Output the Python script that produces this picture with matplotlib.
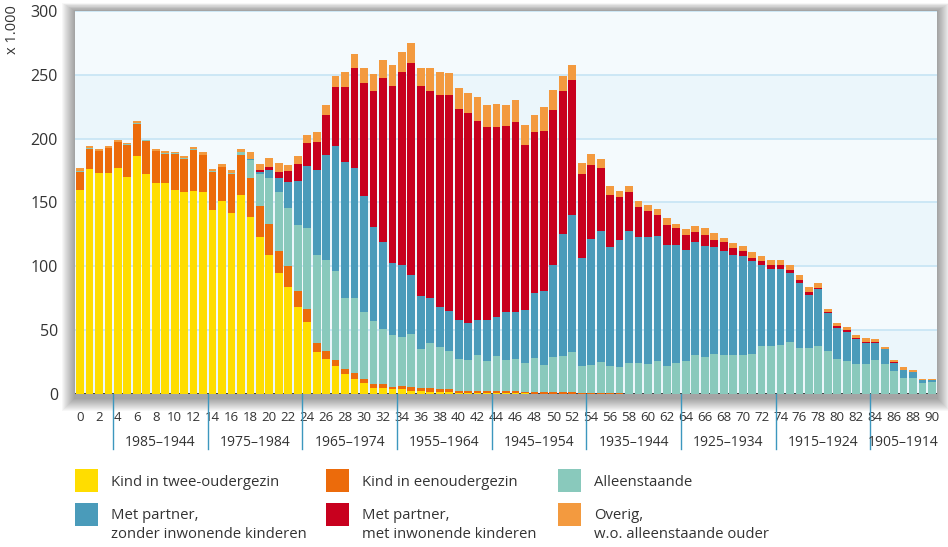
import matplotlib
matplotlib.use("Agg")
import matplotlib.pyplot as plt
from matplotlib.patches import Rectangle
import matplotlib.transforms as mtransforms
import numpy as np

plt.rcParams['font.family'] = ['Open Sans', 'DejaVu Sans']

ages = list(range(91))

kind_twee = [160, 176, 173, 173, 177, 170, 186, 172, 165, 165, 160, 158, 159, 158, 144, 151, 142, 156, 138.5, 123,
             109, 95, 84, 68, 56.5, 33, 27.6, 22, 16, 12, 8.9, 5, 5, 4.2, 4.2, 2.6, 2.6, 1.8, 1.8, 1.8,
             1, 1, 1, 1, 1, 1, 1, 0.8, 0.5, 0.3, 0.3, 0.3, 0.3, 0.2, 0.2, 0.2] + [0] * 35
kind_een = [14, 16, 17, 19.5, 20, 25, 25.5, 26, 25, 23, 28, 26, 32, 29, 30, 26.6, 30, 31, 30.5, 24,
            24, 17, 16.4, 12.5, 10.2, 7, 6.3, 4.7, 4, 4.7, 3.1, 3.2, 3.2, 1.5, 2.3, 3.1, 2.3, 3.1, 2.4, 2.4,
            1.6, 1.6, 1.6, 1.6, 1.6, 1.6, 1.6, 1, 1.3, 1.5, 1.5, 1.5, 1.5, 0.8, 0.8, 0.8, 0.8, 0.8, 0.5, 0.5,
            0.5, 0.5] + [0.2] * 29
alleen = [0.5] * 16 + [1, 2.3, 14, 25,
          36, 46, 45.3, 51.6, 63.3, 68.8, 71, 69.6, 55.5, 58.6, 52.3, 49.2, 43, 40.6, 38.3, 41.4, 30.5, 35.2, 32.8, 29.7,
          25, 24.4, 28.1, 23.4, 27.3, 24.2, 25, 22.7, 26.6, 21.1, 27.4, 28.1, 31.2, 21.1, 21.9, 24.3, 21.3, 20.6, 24, 24,
          23.2, 25.5, 21.8, 24.2, 25.7, 30.4, 28.9, 31.2, 30.4, 30.4, 30.4, 31.2, 37.5, 37.5, 38.2, 40.6, 35.9, 35.9, 37.5, 33.6,
          27.3, 25.7, 23.4, 23.4, 26.5, 23.4, 17.9, 12.5, 12.5, 8.6, 9.3]
partner_zonder = [0] * 18 + [0.8, 1.7,
                  6.3, 11, 20.3, 34.4, 48.4, 66.4, 82, 97.6, 106, 101.5, 90.6, 73.4, 68, 56.2, 56.2, 46.1, 41.4, 35.2, 31.2, 31.2,
                  30.5, 29, 27.3, 32, 30.5, 37.5, 36.7, 41.4, 50.8, 57.8, 71.8, 95.4, 107.1, 84.4, 98.5, 102.3, 93, 99.2, 103.1, 98.4,
                  99.2, 97.7, 94.6, 92.2, 86.8, 88.3, 86.7, 83.6, 81.3, 78.2, 77.4, 72.7, 63.2, 60.1, 59.4, 53.9, 50.8, 41.4, 44.5, 29.6,
                  24.2, 22.7, 19.5, 16.4, 13.3, 11.7, 6.3, 6.2, 4.6, 2.3, 1.6]
partner_met = [0] * 19 + [1.6,
               2.3, 4.7, 8.6, 13.3, 18, 21.8, 31.2, 46.1, 58.6, 78.2, 88.3, 106.3, 128, 139, 150.8, 165.7, 164.1, 161.7, 165.7, 168.8,
               164.8, 164, 155.5, 150.9, 148.5, 145.3, 148.5, 128.9, 125.8, 125, 121.1, 111.7, 105.5, 65.6, 57.8, 49.2, 40.6, 33.6, 30.4, 23.5,
               20.3, 16.4, 15.6, 13.3, 11.7, 7.8, 8.6, 5.5, 7, 5.4, 3.9, 2.3, 3.2, 3.1, 3.1, 2.3, 2.3, 2.3, 0.8, 0.8,
               1.6, 1.6, 0.8, 0.8, 0.8, 0, 0.8, 0, 0, 0, 0]
overig = [2.5, 2, 1, 1.1, 1.2, 1.1, 2.1, 0.6, 1.1, 1.5, 1, 1.5, 1.8, 1.8, 1.8, 1.8, 2.5, 2.3, 5.4, 4.7,
          7, 7, 4.7, 6.2, 6.2, 7.8, 7.8, 8.6, 11.7, 10.9, 11.7, 13.3, 14, 16.4, 15.6, 15.6, 14.1, 18, 17.9, 17.1,
          16.4, 15.6, 18.8, 17.1, 17.9, 16.4, 17.1, 15.6, 13.2, 18.8, 15.7, 11.7, 11.7, 8.6, 8.6, 7.1, 7.1, 4.7, 4.8, 4.6,
          4.7, 4.7, 5.5, 3.1, 4.7, 4.7, 5.5, 5.4, 3.1, 3.9, 3.9, 4.7, 3.9, 3.9, 3.9, 3.9, 3.9, 4, 3.9, 2.4,
          2.3, 2.3, 2.4, 3.1, 2.3, 1.6, 1.5, 2.4, 1.6, 0.8, 0.8]

series = [
    ("Kind in twee-oudergezin", kind_twee, "#FFDD00"),
    ("Kind in eenoudergezin", kind_een, "#EC6B0B"),
    ("Alleenstaande", alleen, "#89C9BC"),
    ("Met partner,\nzonder inwonende kinderen", partner_zonder, "#4A9BBA"),
    ("Met partner,\nmet inwonende kinderen", partner_met, "#C8001E"),
    ("Overig,\nw.o. alleenstaande ouder", overig, "#F39A3F"),
]

group_labels = ["1985\u20131944", "1975\u20131984", "1965\u20131974", "1955\u20131964", "1945\u20131954",
                "1935\u20131944", "1925\u20131934", "1915\u20131924", "1905\u20131914"]

W, H = 948, 547
fig = plt.figure(figsize=(W / 100, H / 100), dpi=100)
fig.patch.set_facecolor("white")

L, R, T, B = 74.7, 936.7, 10.7, 394.3
ax = fig.add_axes([L / W, 1 - B / H, (R - L) / W, (B - T) / H])

# drop shadow around plot area
for k in range(1, 14):
    fig.add_artist(Rectangle(((L - k) / W, 1 - (B + 4 + k) / H), (R - L + 2 * k) / W, (B - T + 4 + k * 1.6) / H,
                             transform=fig.transFigure, facecolor="black", edgecolor="none",
                             alpha=0.03, zorder=-5))

ax.set_facecolor("#F4FAFD")
for lo in range(0, 300, 50):
    col = "#EBF6FB" if (lo // 50) % 2 == 0 else "#F4FAFD"
    ax.axhspan(lo, lo + 50, color=col, zorder=0, lw=0)
for g in range(50, 301, 50):
    ax.axhline(g, color="#C9E6F5", lw=1.3, zorder=0.5)
ax.axhline(0, color="#222222", lw=1.2, zorder=0.6)

x = np.array(ages)
bottom = np.zeros(len(ages))
for name, vals, col in series:
    v = np.array(vals, dtype=float)
    ax.bar(x, v, width=0.82, bottom=bottom, color=col, linewidth=0, zorder=2)
    bottom += v

ax.set_xlim(-0.56, 90.5)
ax.set_ylim(0, 300)
for s in ax.spines.values():
    s.set_visible(False)

ax.set_yticks(range(0, 301, 50))
ax.set_xticks(range(0, 91, 2))
ax.tick_params(axis="y", length=0, pad=12, labelsize=11.5, labelcolor="#333333")
ax.tick_params(axis="x", length=0, pad=12, labelsize=9.5, labelcolor="#333333")

trans = mtransforms.blended_transform_factory(ax.transData, ax.transAxes)
axh = B - T
seps = [3.5 + 10 * i for i in range(9)]
for s in seps:
    ax.plot([s, s], [0, -(449 - B) / axh], color="#3C97BE", lw=1.0, transform=trans, clip_on=False, zorder=3)
bounds = seps + [90.5]
for i, lab in enumerate(group_labels):
    cx = (bounds[i] + bounds[i + 1]) / 2
    ax.text(cx, -(442.5 - B) / axh, lab, transform=trans, ha="center", va="center",
            fontsize=10, color="#333333")

fig.text(13 / W, 1 - 30 / H, "x 1.000", rotation=90, ha="center", va="center", fontsize=10.5, color="#333333")

# legend
cols_x = [75, 326, 558.3]
rows_y = [469, 503.3]
for idx, (name, vals, col) in enumerate(series):
    r = 0 if idx < 3 else 1
    c = idx % 3
    x0 = cols_x[c]
    y0 = rows_y[r]
    fig.add_artist(Rectangle((x0 / W, 1 - (y0 + 23) / H), 23 / W, 23 / H, transform=fig.transFigure,
                             facecolor=col, edgecolor="none"))
    lines = name.split("\n")
    base = 485.7 if r == 0 else 519.3
    for j, ln in enumerate(lines):
        fig.text((x0 + 36) / W, 1 - (base + 19 * j) / H, ln, ha="left", va="baseline",
                 fontsize=10.7, color="#333333")

fig.savefig("out.png", dpi=100)
